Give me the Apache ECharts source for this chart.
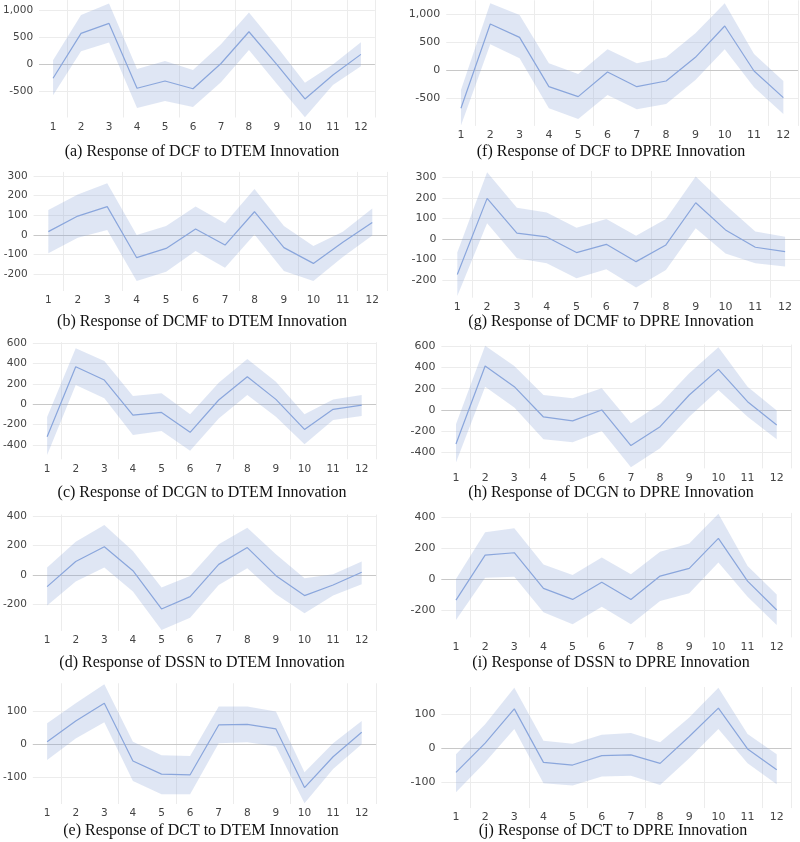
<!DOCTYPE html>
<html>
<head>
<meta charset="utf-8">
<script src="https://cdn.jsdelivr.net/npm/echarts@6/dist/echarts.min.js"></script>
<style>
html,body{margin:0;padding:0;background:#fff;}
#chart{width:800px;height:842px;}
</style>
</head>
<body>
<div id="chart"></div>
<script>
const categories = ['1','2','3','4','5','6','7','8','9','10','11','12'];

// (a) DCF to DTEM
const aMid = [-265, 570, 756, -450, -316, -460, 10, 601, -10, -650, -205, 180];
const aUp  = [70, 911, 1128, -93, 55, -112, 370, 961, 322, -347, -10, 405];
const aLow = [-580, 240, 400, -820, -690, -800, -340, 260, -370, -992, -390, -40];
// (b) DCMF to DTEM
const bMid = [17, 96, 144, -115, -68, 30, -51, 118, -64, -144, -37, 64];
const bUp  = [127, 206, 262, 0, 46, 144, 59, 233, 46, -56, 17, 135];
const bLow = [-93, -14, 25, -233, -186, -81, -166, 3, -183, -233, -112, -3];
// (c) DCGN to DTEM
const cMid = [-318, 370, 239, -105, -79, -275, 43, 272, 49, -246, -49, -7];
const cUp  = [-125, 551, 426, 82, 108, -98, 213, 446, 223, -98, 49, 92];
const cLow = [-498, 190, 59, -302, -262, -456, -138, 92, -121, -393, -154, -115];
// (d) DSSN to DTEM
const dMid = [-79, 91, 192, 29, -231, -147, 72, 186, -5, -140, -68, 18];
const dUp  = [50, 226, 340, 163, -86, -7, 208, 321, 140, -23, 5, 91];
const dLow = [-208, -45, 50, -113, -374, -290, -68, 45, -131, -260, -140, -63];
// (e) DCT to DTEM
const eMid = [8, 71, 125, -51, -91, -93, 59, 61, 47, -132, -38, 37];
const eUp  = [64, 125, 183, 8, -33, -36, 115, 115, 100, -85, 3, 71];
const eLow = [-48, 18, 67, -112, -152, -152, 3, 6, -7, -180, -75, 0];
// (f) DCF to DPRE
const fMid = [-682, 818, 581, -297, -474, -36, -297, -196, 225, 783, -18, -492];
const fUp  = [-356, 1186, 978, 119, -71, 368, 119, 225, 652, 1186, 285, -196];
const fLow = [-990, 457, 208, -682, -872, -445, -700, -605, -178, 368, -308, -783];
// (g) DCMF to DPRE
const gMid = [-172, 197, 28, 10, -66, -26, -110, -29, 176, 44, -40, -61];
const gUp  = [-65, 324, 152, 129, 55, 97, 16, 97, 303, 165, 36, 11];
const gLow = [-277, 76, -94, -118, -191, -147, -235, -150, 52, -70, -118, -134];
// (h) DCGN to DPRE
const hMid = [-320, 414, 219, -66, -103, 0, -335, -157, 141, 382, 78, -141];
const hUp  = [-135, 605, 414, 141, 110, 204, -125, 56, 345, 589, 219, -6];
const hLow = [-495, 219, 22, -276, -304, -198, -539, -361, -63, 188, -63, -276];
// (i) DSSN to DPRE
const iMid = [-135, 154, 169, -60, -131, -21, -131, 19, 69, 261, -13, -199];
const iUp  = [0, 300, 326, 94, 26, 139, 30, 176, 229, 420, 84, -99];
const iLow = [-263, 9, 15, -214, -291, -178, -291, -141, -92, 107, -114, -296];
// (j) DCT to DPRE
const jMid = [-72, 15, 117, -42, -50, -22, -20, -45, 35, 119, -2, -64];
const jUp  = [-18, 71, 180, 22, 13, 40, 45, 18, 91, 180, 42, -18];
const jLow = [-131, -42, 57, -104, -111, -84, -82, -109, -30, 57, -45, -107];

const captions = [
  '(a) Response of DCF to DTEM Innovation',
  '(b) Response of DCMF to DTEM Innovation',
  '(c) Response of DCGN to DTEM Innovation',
  '(d) Response of DSSN to DTEM Innovation',
  '(e) Response of DCT to DTEM Innovation',
  '(f) Response of DCF to DPRE Innovation',
  '(g) Response of DCMF to DPRE Innovation',
  '(h) Response of DCGN to DPRE Innovation',
  '(i) Response of DSSN to DPRE Innovation',
  '(j) Response of DCT to DPRE Innovation'
];

const panels = [
  {mid:aMid, up:aUp, low:aLow, left:35.9, width:339, top:0.1, height:117.4, min:-995, max:1190, capX:202, capY:152, fs:10.5},
  {mid:bMid, up:bUp, low:bLow, left:33.6, width:353.4, top:171.9, height:119.1, min:-284, max:320, capX:202, capY:322, fs:10.5},
  {mid:cMid, up:cUp, low:cLow, left:32.4, width:343.6, top:342.3, height:117, min:-540, max:610, capX:202, capY:493, fs:10.5},
  {mid:dMid, up:dUp, low:dLow, left:32.4, width:343.6, top:514.6, height:116.3, min:-380, max:410, capX:202, capY:663, fs:10.5},
  {mid:eMid, up:eUp, low:eLow, left:32.4, width:343.6, top:683.3, height:120.7, min:-182, max:186, capX:201, capY:831, fs:10.5},
  {mid:fMid, up:fUp, low:fLow, left:446.3, width:351.7, top:0.3, height:125.6, min:-995, max:1240, capX:611, capY:152, fs:11},
  {mid:gMid, up:gUp, low:gLow, left:442.4, width:357.6, top:171, height:126.7, min:-285, max:330, capX:611, capY:322, fs:11},
  {mid:hMid, up:hUp, low:hLow, left:441.4, width:349.9, top:344.6, height:123.8, min:-550, max:615, capX:611, capY:493, fs:11},
  {mid:iMid, up:iUp, low:iLow, left:441.4, width:349.9, top:512.9, height:124.5, min:-375, max:425, capX:611, capY:663, fs:11},
  {mid:jMid, up:jUp, low:jLow, left:441.4, width:349.9, top:687, height:121.1, min:-178, max:182, capX:613, capY:831, fs:11}
];

const grids = [], xAxes = [], yAxes = [], series = [], graphics = [];
const labelFont = '"DejaVu Sans", Verdana, sans-serif';

panels.forEach((p, k) => {
  grids.push({left: p.left, top: p.top, width: p.width, height: p.height, containLabel: false});
  xAxes.push({
    type: 'category', gridIndex: k, data: categories, boundaryGap: true,
    axisLine: {show: false}, axisTick: {show: false},
    axisLabel: {color: '#444', fontFamily: labelFont, fontSize: p.fs, margin: 4, interval: 0},
    splitLine: {show: true, interval: (i) => i % 2 === 1, lineStyle: {color: '#ececec', width: 1}}
  });
  yAxes.push({
    type: 'value', gridIndex: k, min: p.min, max: p.max, splitNumber: 5,
    axisLine: {show: false}, axisTick: {show: false},
    axisLabel: {color: '#444', fontFamily: labelFont, fontSize: p.fs, margin: 6,
      showMinLabel: false, showMaxLabel: false,
      formatter: (v) => Number(v).toLocaleString('en-US')},
    splitLine: {show: true, showMinLine: false, showMaxLine: false, lineStyle: {color: '#ececec', width: 1}}
  });
  const diff = p.up.map((u, i) => u - p.low[i]);
  series.push({
    type: 'line', xAxisIndex: k, yAxisIndex: k, data: p.low, stack: 'band' + k, stackStrategy: 'all',
    symbol: 'none', lineStyle: {opacity: 0}, silent: true, z: 2
  });
  series.push({
    type: 'line', xAxisIndex: k, yAxisIndex: k, data: diff, stack: 'band' + k, stackStrategy: 'all',
    symbol: 'none', lineStyle: {opacity: 0}, areaStyle: {color: 'rgba(140,165,215,0.28)', opacity: 1}, silent: true, z: 2
  });
  series.push({
    type: 'line', xAxisIndex: k, yAxisIndex: k, data: p.mid, symbol: 'none',
    lineStyle: {color: '#8aa6dc', width: 1.2}, z: 3, silent: true,
    markLine: {silent: true, symbol: 'none', label: {show: false},
      lineStyle: {color: '#c8c8c8', width: 1.2, type: 'solid'}, data: [{yAxis: 0}], z: 1}
  });
  graphics.push({
    type: 'text', x: p.capX, y: p.capY,
    style: {text: captions[k], font: '16px "Liberation Serif", "Times New Roman", serif', fill: '#111',
      textAlign: 'center', textVerticalAlign: 'middle'}
  });
});

const chart = echarts.init(document.getElementById('chart'), null, {renderer: 'canvas'});
chart.setOption({
  animation: false,
  backgroundColor: '#fff',
  grid: grids, xAxis: xAxes, yAxis: yAxes, series: series, graphic: graphics
});
</script>
</body>
</html>
